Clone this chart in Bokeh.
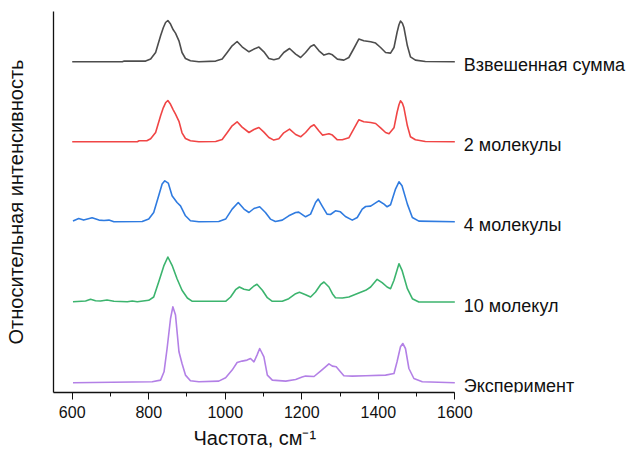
from bokeh.plotting import figure
from bokeh.models import Range1d, SingleIntervalTicker, FixedTicker, Title
from bokeh.embed import file_html
from bokeh.resources import INLINE
from bokeh.core.properties import value

# Raman-type spectra, wavenumber (cm^-1) vs intensity (a.u.)
wn_sum = [600, 731, 736, 792, 805, 818, 831, 838, 844, 850, 857, 864, 870, 879, 887, 896, 909, 931,
          975, 992, 1005, 1018, 1031, 1044, 1062, 1075, 1088, 1101, 1114, 1127, 1140, 1153, 1168, 1184,
          1197, 1210, 1223, 1232, 1245, 1258, 1271, 1280, 1293, 1310, 1323, 1336, 1349, 1362, 1380,
          1393, 1406, 1419, 1432, 1441, 1449, 1454, 1458, 1463, 1467, 1476, 1484, 1497, 1523, 1600]
int_sum = [0, 0, 0.7, 0.7, 2.7, 9.3, 26, 34, 39.3, 41.3, 37.7, 32, 28.7, 21, 9.3, 3.3, 1, 0,
           0.7, 2.7, 9.3, 16, 20.3, 15, 10, 12.7, 14.7, 10, 3.3, 2, 3.3, 9.3, 13.3, 7.7,
           4.3, 9.3, 15.3, 17, 11, 6.7, 8.3, 7, 2.7, 1.7, 4.3, 13.3, 22.7, 21, 20,
           18.7, 14.3, 9.3, 8.7, 14.3, 29.3, 37, 40.7, 38.5, 34.3, 16, 5, 1.7, 0.3, 0]

wn_2mol = [600, 770, 775, 795, 805, 818, 831, 838, 844, 850, 857, 864, 870, 879, 887, 896, 909, 931,
           975, 992, 1005, 1018, 1031, 1044, 1062, 1075, 1088, 1101, 1114, 1127, 1140, 1153, 1168,
           1184, 1197, 1210, 1223, 1232, 1245, 1254, 1262, 1271, 1280, 1293, 1306, 1323, 1336, 1349,
           1362, 1380, 1393, 1406, 1419, 1428, 1441, 1449, 1454, 1458, 1463, 1467, 1476, 1484, 1497,
           1523, 1600]
int_2mol = [0, 0, 1, 1, 3, 9.3, 26, 34, 39, 41.3, 37.5, 32, 27.7, 20.5, 9, 3.3, 1, 0,
            0.3, 2.3, 9, 16, 20, 14.7, 9.3, 12.3, 14.3, 9.7, 4.3, 1.7, 3, 9, 12.7,
            7.3, 5, 9.3, 15, 17, 10.7, 6.7, 7.3, 8, 6.7, 2, 2, 4, 13, 22,
            20, 19.3, 18.3, 14, 9.3, 8, 14, 29.3, 37, 41, 38.5, 34, 16, 5, 2,
            0.3, 0]

wn_4mol = [602, 617, 630, 652, 670, 683, 696, 709, 783, 800, 813, 826, 835, 842, 851, 861, 874, 883,
           896, 909, 931, 983, 1001, 1018, 1034, 1049, 1062, 1075, 1090, 1105, 1118, 1131, 1149, 1166,
           1184, 1192, 1210, 1223, 1236, 1243, 1253, 1266, 1275, 1288, 1301, 1314, 1332, 1345, 1358,
           1367, 1380, 1388, 1401, 1415, 1423, 1432, 1445, 1454, 1462, 1476, 1489, 1506, 1600]
int_4mol = [0.7, 3.3, 1.7, 4, 1.7, 1.3, 1.7, 0, 0.3, 2.7, 9.3, 26, 37.7, 41, 38.7, 26, 19.3, 16,
            6, 1, 0, 0.3, 2.7, 12.7, 19.3, 12.7, 9.3, 13.3, 15, 9.3, 2.7, 0.3, 1.7, 6,
            9.3, 9.7, 5, 7.7, 19.3, 22.7, 16, 7.7, 7.3, 11, 10, 5.3, 1.7, 4.3, 12.7,
            15.3, 15.7, 17.7, 21, 17.7, 15, 17, 32.7, 40, 36, 17.7, 4.3, 0.7, 0]

wn_10mol = [602, 635, 648, 661, 674, 691, 709, 744, 757, 770, 800, 813, 826, 840, 850, 861, 874, 887,
            901, 914, 1001, 1014, 1027, 1037, 1049, 1062, 1075, 1083, 1097, 1110, 1123, 1149, 1166,
            1184, 1194, 1210, 1223, 1236, 1249, 1258, 1271, 1280, 1288, 1306, 1323, 1349, 1367, 1380,
            1397, 1410, 1423, 1432, 1441, 1454, 1462, 1476, 1489, 1506, 1600]
int_10mol = [0.3, 1, 2.7, 1.3, 1, 2, 0.7, 0.3, 1, 0.3, 1.7, 5, 20, 36.7, 45, 36.7, 23.3, 11.7,
             4, 0.7, 0.7, 5, 12.3, 15, 12.7, 11.7, 16, 17.7, 11.7, 4.3, 0.7, 0.7, 3.3,
             8.3, 9.7, 7.3, 5, 10, 17.3, 20, 15, 8.3, 4.3, 4, 5, 9, 11.7, 15,
             22.7, 19.3, 15, 13.3, 21.7, 38.3, 31.7, 13.3, 3.3, 0, 0]

wn_exp = [602, 809, 831, 840, 848, 857, 863, 870, 879, 887, 896, 909, 931, 983, 1001, 1018, 1031,
          1044, 1057, 1066, 1075, 1083, 1090, 1101, 1110, 1123, 1158, 1184, 1201, 1210, 1232, 1249,
          1262, 1271, 1280, 1290, 1301, 1310, 1332, 1367, 1419, 1441, 1449, 1458, 1464, 1471, 1480,
          1493, 1515, 1600]
int_exp = [0, 1, 2.7, 11, 34.3, 64.3, 76, 67.7, 31, 19.3, 7.7, 2, 1, 1.7, 5, 12.7, 20.3,
           21.7, 22.7, 24.3, 21, 27.7, 34.3, 26, 7.7, 2.7, 1.7, 3.3, 5.7, 6.7, 6.3, 11.7,
           16, 19, 16.7, 16, 11, 7, 6.7, 7, 7.7, 9.3, 21, 36, 39.3, 34.3, 14.3,
           4.3, 1, 0]

series_names = ["Взвешенная сумма", "2 молекулы", "4 молекулы", "10 молекул", "Эксперимент"]
series_wn = [wn_sum, wn_2mol, wn_4mol, wn_10mol, wn_exp]
series_int = [int_sum, int_2mol, int_4mol, int_10mol, int_exp]
series_colors = ["#4d4d4d", "#f04545", "#2f7be0", "#3cb46e", "#b380e6"]
offsets = [330.7, 250.7, 170.7, 90.5, 9.7]   # vertical stacking of the traces

FONT = "Liberation Sans"

p = figure(width=626, height=453, output_backend="svg", toolbar_location=None, title=None,
           x_range=Range1d(551.1, 2048.7), y_range=Range1d(0, 381),
           min_border_left=53, min_border_right=0, min_border_top=11, min_border_bottom=61)
p.outline_line_color = None
p.xgrid.visible = False
p.ygrid.visible = False
p.background_fill_color = "white"
p.border_fill_color = "white"

for wn, inten, color, off in zip(series_wn, series_int, series_colors, offsets):
    p.line(wn, [v + off for v in inten], line_color=color, line_width=1.6,
           line_join="round")

p.text(x=[1623.5] * len(series_names), y=[o - 3.5 for o in offsets], text=series_names,
       text_font=value(FONT), text_font_size="18px", text_color="#111111",
       text_baseline="alphabetic", text_align="left")

# bottom axis stops at 1600 so the trace labels sit to its right
xa = p.xaxis[0]
xa.ticker = SingleIntervalTicker(interval=200, num_minor_ticks=2)
xa.bounds = (551.1, 1600)
xa.axis_line_width = 1.3
xa.axis_line_color = "#111111"
xa.major_tick_out = 7
xa.major_tick_in = 0
xa.minor_tick_out = 4
xa.minor_tick_in = 0
xa.major_tick_line_color = "#111111"
xa.minor_tick_line_color = "#111111"
xa.major_label_text_font = FONT
xa.major_label_text_font_size = "16px"
xa.major_label_text_color = "#111111"
xa.major_label_standoff = 6

ya = p.yaxis[0]
ya.ticker = FixedTicker(ticks=[])
ya.major_tick_out = 0
ya.major_tick_in = 0
ya.minor_tick_out = 0
ya.minor_tick_in = 0
ya.axis_line_width = 1.3
ya.axis_line_color = "#111111"
ya.axis_label = "Относительная интенсивность"
ya.axis_label_text_font = FONT
ya.axis_label_text_font_size = "20px"
ya.axis_label_text_font_style = "normal"
ya.axis_label_text_color = "#111111"
ya.axis_label_standoff = 27

# x axis title, placed under the tick labels and centred on the 600-1600 span
p.add_layout(Title(text="Частота, см⁻¹", align="left", offset=140, standoff=8,
                   text_font=FONT, text_font_size="20px", text_font_style="normal",
                   text_color="#111111"), "below")

open("out.html", "w").write(file_html(p, INLINE))
